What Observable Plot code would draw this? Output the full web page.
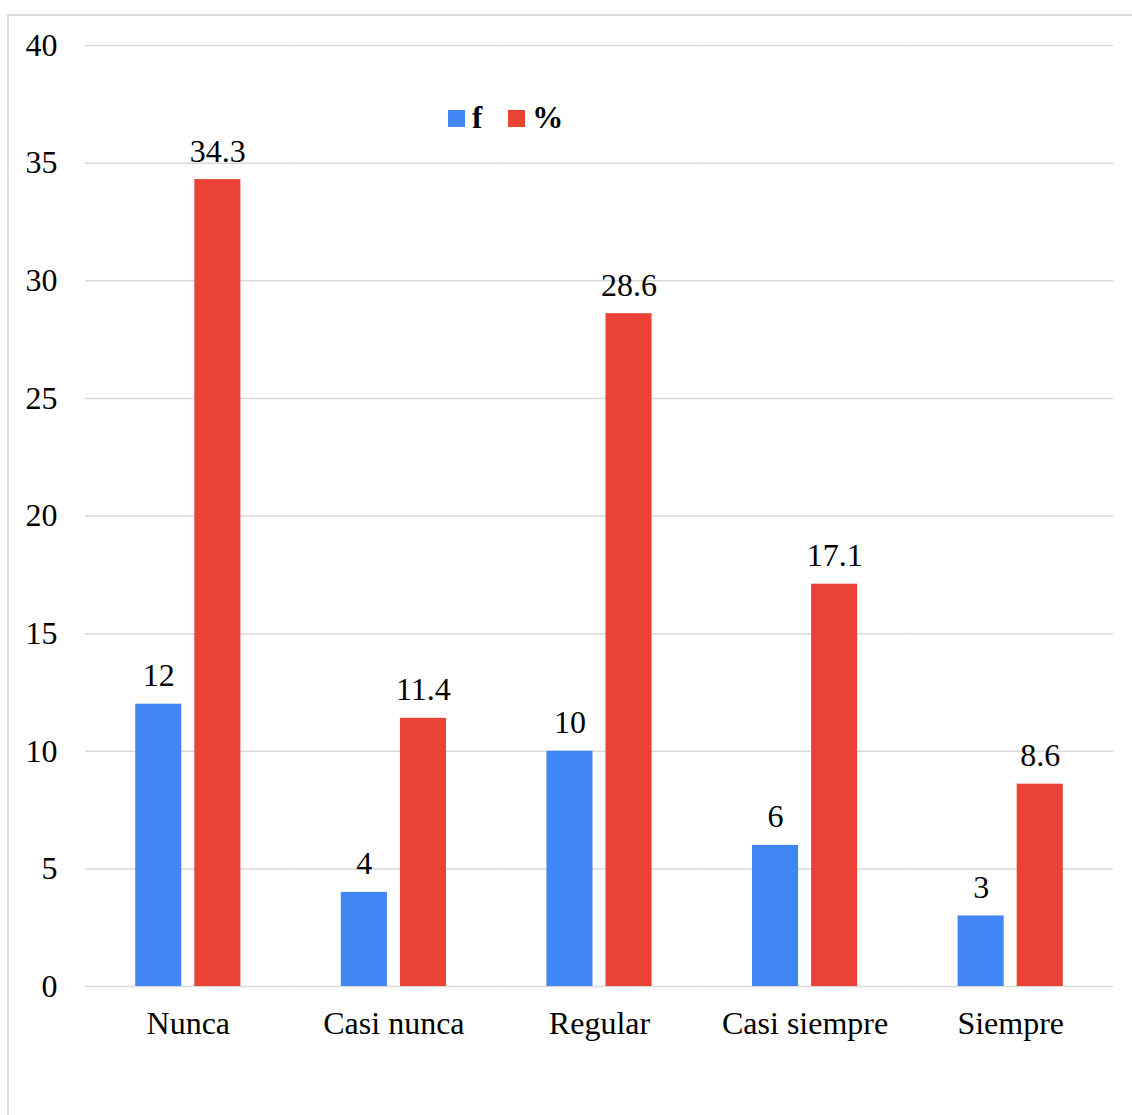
<!DOCTYPE html>
<html>
<head>
<meta charset="utf-8">
<script src="https://cdn.jsdelivr.net/npm/d3@7"></script>
<script src="https://cdn.jsdelivr.net/npm/@observablehq/plot@0.6"></script>
<style>
  html, body { margin: 0; padding: 0; background: #fff; overflow: hidden; }
  #page { position: relative; width: 1132px; height: 1115px; }
  #frame { position: absolute; left: 7px; top: 14px; width: 1300px; height: 1300px;
           border: 2px solid #dcdcdc; box-sizing: border-box; }
  #chart { position: absolute; left: 0; top: 0; }
  #legend { position: absolute; left: 448px; top: 100px; }
  #legend .lg-swatch { margin-right: 26px; font: bold 31px "Liberation Serif", serif; color: #000; }
  #legend .lg-swatch > svg { margin-right: 7px; }
</style>
</head>
<body>
<div id="page">
  <div id="frame"></div>
  <div id="chart"></div>
  <div id="legend"></div>
</div>
<script>
// Response categories and the two series: frequency (f) and percentage (%)
const categories = ["Nunca", "Casi nunca", "Regular", "Casi siempre", "Siempre"];
const seriesNames = ["f", "%"];
const fValues = [12, 4, 10, 6, 3];
const pctValues = [34.3, 11.4, 28.6, 17.1, 8.6];
const yTicks = [0, 5, 10, 15, 20, 25, 30, 35, 40];
const seriesColors = ["#4285F4", "#EA4335"];

const rows = categories.flatMap((c, i) => [
  {category: c, series: "f", value: fValues[i]},
  {category: c, series: "%", value: pctValues[i]}
]);

const font = "'Liberation Serif', 'Times New Roman', serif";

const plot = Plot.plot({
  width: 1132,
  height: 1115,
  marginLeft: 85,
  marginRight: 19,
  marginTop: 45,
  marginBottom: 129,
  style: {fontFamily: font, fontSize: "32px", color: "#000", background: "transparent", overflow: "visible"},
  fx: {domain: categories, padding: 0, round: false, label: null},
  x: {domain: seriesNames, paddingInner: 0.22, paddingOuter: 0.85, round: false, axis: null},
  y: {domain: [0, 40], axis: null},
  color: {domain: seriesNames, range: seriesColors},
  marks: [
    Plot.gridY(yTicks, {stroke: "#d9d9d9", strokeOpacity: 1, strokeWidth: 1.5}),
    Plot.axisY(yTicks, {tickSize: 0, tickPadding: 28, label: null, fontSize: 32, fill: "#000"}),
    Plot.axisFx({anchor: "bottom", tickSize: 0, tickPadding: 25, label: null, fontSize: 32, fill: "#000"}),
    Plot.barY(rows, {fx: "category", x: "series", y: "value", fill: "series"}),
    Plot.text(rows, {
      fx: "category", x: "series", y: "value",
      text: d => String(d.value),
      lineAnchor: "bottom", dy: -18, fontSize: 32, fill: "#000"
    })
  ]
});
document.getElementById("chart").appendChild(plot);

const legend = plot.legend("color", {className: "lg", swatchSize: 17});
document.getElementById("legend").appendChild(legend);
</script>
</body>
</html>
